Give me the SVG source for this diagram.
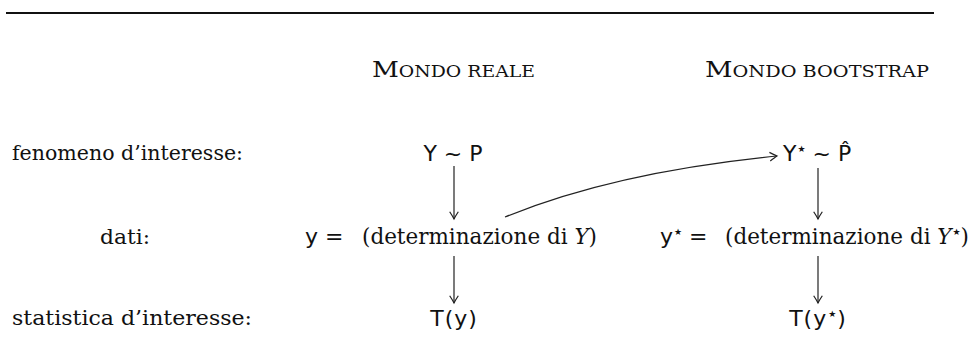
<svg xmlns="http://www.w3.org/2000/svg" width="974" height="338" viewBox="0 0 974 338">
<defs>
<style>
.lab{font-family:"DejaVu Serif","Liberation Serif",serif;font-size:20.5px;fill:#111}
.dat{font-family:"DejaVu Serif","Liberation Serif",serif;font-size:21.5px;fill:#111}
.sc{font-family:"DejaVu Serif","Liberation Serif",serif;fill:#111}
.math{font-family:"DejaVu Sans","Noto Sans",sans-serif;font-size:22px;fill:#111}
.star{font-family:"DejaVu Sans","Noto Sans",sans-serif;font-size:9px}
.conn{stroke:#222;stroke-width:1.2;fill:none}
</style>
<marker id="ah" markerUnits="userSpaceOnUse" markerWidth="12" markerHeight="12" viewBox="-7 -5 8 10" refX="0" refY="0" orient="auto">
<path d="M-6,-3.6 Q-1.8,-0.9 0,0 Q-1.8,0.9 -6,3.6" fill="none" stroke="#222" stroke-width="1"/>
</marker>
</defs>
<rect width="974" height="338" fill="#fff"/>
<line x1="6" y1="13" x2="934" y2="13" stroke="#111" stroke-width="2"/>

<g id="header-reale"><text class="sc" x="372" y="77" textLength="163" lengthAdjust="spacingAndGlyphs"><tspan font-size="23">M</tspan><tspan font-size="16.5">ONDO REALE</tspan></text></g>
<g id="header-bootstrap"><text class="sc" x="705" y="77" textLength="224" lengthAdjust="spacingAndGlyphs"><tspan font-size="23">M</tspan><tspan font-size="16.5">ONDO BOOTSTRAP</tspan></text></g>

<g id="label-fenomeno"><text class="lab" x="12" y="160" textLength="231" lengthAdjust="spacingAndGlyphs">fenomeno d’interesse:</text></g>
<g id="label-dati"><text class="lab" x="100" y="244" textLength="50" lengthAdjust="spacingAndGlyphs">dati:</text></g>
<g id="label-statistica"><text class="lab" x="12" y="325" textLength="240" lengthAdjust="spacingAndGlyphs">statistica d’interesse:</text></g>

<g id="node-YP"><text class="math" x="453" y="161" text-anchor="middle">Y ~ P</text></g>
<g id="node-YstarPhat"><text class="math" x="783" y="161">Y<tspan class="star" dx="1" dy="-9">★</tspan><tspan dy="9"> ~ P̂</tspan></text></g>

<g id="node-y"><text class="math" x="305" y="244">y =</text><text class="dat" x="362" y="244" textLength="235" lengthAdjust="spacingAndGlyphs">(determinazione di <tspan font-style="italic">Y</tspan>)</text></g>
<g id="node-ystar"><text class="math" x="660" y="244">y<tspan class="star" dx="1" dy="-9">★</tspan><tspan dy="9"> =</tspan></text><text class="dat" x="725" y="244" textLength="244" lengthAdjust="spacingAndGlyphs">(determinazione di <tspan font-style="italic">Y</tspan><tspan class="star" dx="1" dy="-9">★</tspan><tspan dy="9">)</tspan></text></g>

<g id="node-Ty"><text class="math" x="454" y="326" text-anchor="middle" font-size="23" letter-spacing="1">T(y)</text></g>
<g id="node-Tystar"><text class="math" x="818" y="326" text-anchor="middle" font-size="23" letter-spacing="1">T(y<tspan class="star" dx="1" dy="-9">★</tspan><tspan dy="9">)</tspan></text></g>

<g id="connectors">
<line class="conn" x1="454" y1="166" x2="454" y2="219" marker-end="url(#ah)"/>
<line class="conn" x1="454" y1="256" x2="454" y2="303" marker-end="url(#ah)"/>
<line class="conn" x1="818" y1="168" x2="818" y2="219" marker-end="url(#ah)"/>
<line class="conn" x1="818" y1="256" x2="818" y2="303" marker-end="url(#ah)"/>
<path class="conn" d="M505,217 Q615,172 777,156" marker-end="url(#ah)"/>
</g>
</svg>
